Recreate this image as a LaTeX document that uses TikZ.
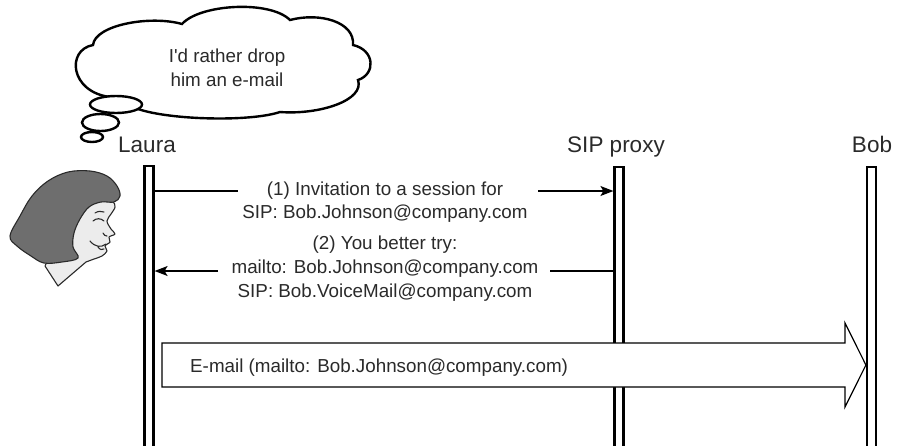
\documentclass[tikz,border=0pt]{standalone}
\usepackage{fontspec}
\setmainfont{Liberation Sans}[Ligatures=TeXOff]
\usetikzlibrary{arrows.meta}
\definecolor{hair}{HTML}{6E6E6E}
\definecolor{skin}{HTML}{ECECEC}
\definecolor{ink}{HTML}{2A2A2A}
\begin{document}
\begin{tikzpicture}[x=1pt,y=-1pt,
  every node/.style={inner sep=0pt, text=ink},
  txt/.style={font=\fontsize{18.8}{24}\selectfont, anchor=base},
  actor/.style={font=\fontsize{22.5}{27}\selectfont, anchor=base},
  lifeline/.style={draw, line width=2.2pt, fill=white, minimum width=9pt,
    minimum height=300pt, anchor=north},
  msg/.style={line width=1.3pt},
  msgarrow/.style={msg, -{Stealth[length=13pt,width=10pt,inset=3pt]}},
  bubble/.style={draw, line width=2.4pt, fill=white},
  bigarrow/.style={draw, line width=1.2pt, fill=white, line join=miter},
  sketch/.style={draw=ink, line width=1.1pt, line cap=round, line join=round}]
\useasboundingbox (0,0) rectangle (901,445);

% thought cloud
\path[bubble] (110,97) .. controls (70,92) and (66,50) .. (93,45)
  .. controls (95,25) and (150,15) .. (182,24)
  .. controls (200,4) and (270,0) .. (290,20)
  .. controls (320,12) and (355,22) .. (353,45)
  .. controls (375,50) and (376,74) .. (358,80)
  .. controls (365,100) and (320,115) .. (280,112)
  .. controls (250,122) and (170,120) .. (138,109) -- cycle;
\path[bubble] (116,104.5) ellipse [x radius=26, y radius=8.5];
\path[bubble] (100.5,122.5) ellipse [x radius=18.5, y radius=8.5];
\path[bubble] (92,137) ellipse [x radius=11, y radius=5];
\node[txt] (think1) at (227,62) {I'd rather drop};
\node[txt] (think2) at (227,86) {him an e-mail};

% actors
\node[actor] (laura) at (147,152) {Laura};
\node[actor] (proxy) at (616,152) {SIP proxy};
\node[actor] (bob) at (872,152) {Bob};

% lifelines
\node[lifeline] (lauraBar) at (149,165) {};
\node[lifeline] (proxyBar) at (619,166) {};
\node[lifeline] (bobBar) at (871.5,166) {};

% Laura's head
\filldraw[sketch, fill=skin] plot[smooth, tension=0.55] coordinates {
  (45,266) (55,245) (66,222) (80,207) (97,200) (112,201) (115,207)
  (111,214) (107,221) (111,229) (115,234) (109,237) (110,242) (105,246)
  (107,251) (102,256) (94,259) (86,262)} -- (58,286) -- cycle;
\filldraw[sketch, fill=hair] plot[smooth cycle, tension=0.6] coordinates {
  (10,236) (20,216) (32,196) (48,181) (68,172) (90,171) (107,176)
  (117,186) (120,196) (114,202) (101,202) (89,207) (80,219) (74,233)
  (73,247) (78,258) (62,262) (44,263) (31,256) (17,246)};
\draw[sketch] (93,221) .. controls (96,218) and (101,218) .. (104,221);
\draw[sketch] (95,213) .. controls (98,211) and (101,211) .. (104,212);
\draw[sketch] (90,241) .. controls (95,247) and (101,248) .. (106,244);
\draw[sketch] (98,247) .. controls (100,250) and (102,250) .. (104,249);
\draw[sketch] (103,233) .. controls (104,235) and (105,236) .. (107,236);

% message 1: invitation
\coordinate (m1a) at (238,191);
\coordinate (m1b) at (538,191);
\draw[msg] (lauraBar.east |- m1a) -- (m1a);
\draw[msgarrow] (m1b) -- (proxyBar.west |- m1b);
\node[txt] (m1t1) at (385,195) {(1) Invitation to a session for};
\node[txt] (m1t2) at (385,218) {SIP: Bob.Johnson@company.com};

% message 2: redirect
\coordinate (m2a) at (550,271);
\coordinate (m2b) at (218,271);
\draw[msg] (proxyBar.west |- m2a) -- (m2a);
\draw[msgarrow] (m2b) -- (lauraBar.east |- m2b);
\node[txt] (m2t1) at (385,249) {(2) You better try:};
\node[txt] (m2t2) at (385,273) {mailto: Bob.Johnson@company.com};
\node[txt] (m2t3) at (385,297) {SIP: Bob.VoiceMail@company.com};

% e-mail delivery
\coordinate (mailrow) at (0,365);
\coordinate (tip) at (bobBar.west |- mailrow);
\path[bigarrow] (162,343) -- (845,343) -- (845,323) -- (tip)
  -- (845,407) -- (845,387) -- (162,387) -- cycle;
\node[txt, anchor=base west] (mail) at (190,372) {E-mail (mailto: Bob.Johnson@company.com)};
\end{tikzpicture}
\end{document}
